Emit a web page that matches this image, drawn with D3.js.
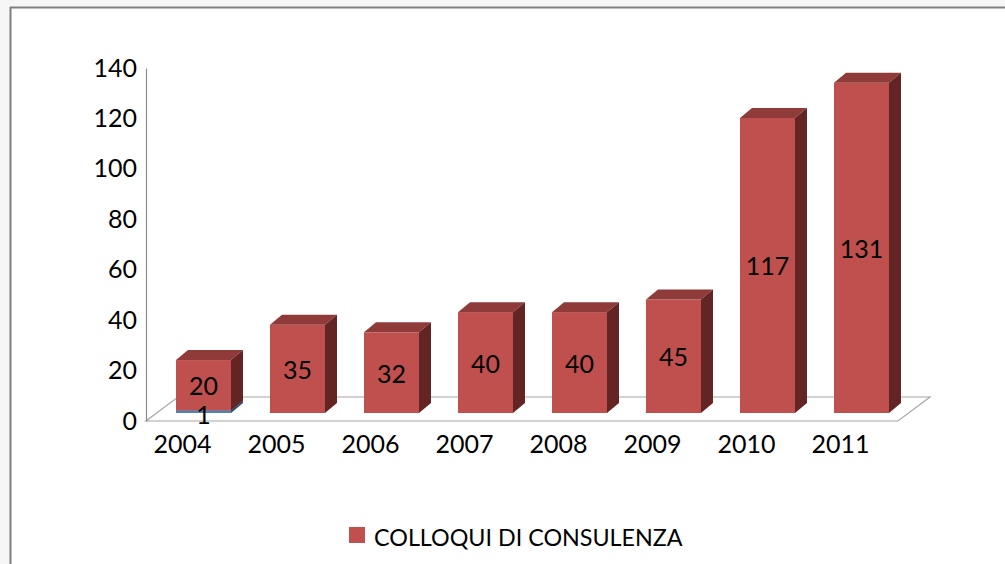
<!DOCTYPE html>
<html>
<head>
<meta charset="utf-8">
<script src="https://cdn.jsdelivr.net/npm/d3@7"></script>
<style>
  html, body { margin: 0; padding: 0; background: #f6f6f6; }
  svg { display: block; }
</style>
</head>
<body>
<div id="container"></div>
<script>
const width = 1005, height = 564;

// --- Data ---------------------------------------------------------------------
const years = ["2004", "2005", "2006", "2007", "2008", "2009", "2010", "2011"];
const blueValues = [1, 0, 0, 0, 0, 0, 0, 0];
const colloqui = [20, 35, 32, 40, 40, 45, 117, 131];
const yTicks = [0, 20, 40, 60, 80, 100, 120, 140];
const legendLabel = "COLLOQUI DI CONSULENZA";

const font = "Lato, 'Open Sans', sans-serif";

// 3D geometry (floor depth and bar depth offsets)
const floorDx = 32, floorDy = -24;
const barShiftX = 10.5, barShiftY = -8;
const barDx = 12, barDy = -10;

const x = d3.scaleBand().domain(years).range([146, 898]).paddingInner(0.415).paddingOuter(0.2075);
const y = d3.scaleLinear().domain([0, 140]).range([421, 68]);

const svg = d3.select("#container").append("svg").attr("width", width).attr("height", height);

// frame
svg.append("rect").attr("x", 11).attr("y", 8).attr("width", width - 11).attr("height", height - 8).attr("fill", "#fff");
svg.append("line").attr("x1", 10).attr("x2", width).attr("y1", 7.5).attr("y2", 7.5).attr("stroke", "#7f7f7f").attr("stroke-width", 2);
svg.append("line").attr("x1", 10.5).attr("x2", 10.5).attr("y1", 7).attr("y2", height).attr("stroke", "#7f7f7f").attr("stroke-width", 2);

// --- Floor --------------------------------------------------------------------
const x0 = 146, x1 = 898, y0 = y(0);
svg.append("path")
  .attr("d", `M${x0},${y0}L${x1},${y0}L${x1 + floorDx},${y0 + floorDy}L${x0 + floorDx},${y0 + floorDy}Z`)
  .attr("fill", "none")
  .attr("stroke", "#a6a6a6")
  .attr("stroke-width", 1.2);

// --- Y axis -------------------------------------------------------------------
const yAxis = svg.append("g").attr("transform", `translate(${x0},0)`)
  .call(d3.axisLeft(y).tickValues(yTicks).tickSize(0).tickPadding(9));
yAxis.select(".domain").attr("stroke", "#8c8c8c").attr("stroke-width", 1.2);
yAxis.selectAll("text").attr("fill", "#000").style("font-family", font).style("font-size", "25px");

// --- X labels -----------------------------------------------------------------
svg.selectAll("text.xlab")
  .data(years)
  .join("text")
  .attr("class", "xlab")
  .attr("x", (d) => x(d) + x.bandwidth() / 2 - barShiftX)
  .attr("y", 453)
  .attr("text-anchor", "middle")
  .attr("fill", "#000")
  .style("font-family", font)
  .style("font-size", "25px")
  .text((d) => d);

// --- Bars ---------------------------------------------------------------------
function drawBox(g, bx, yTop, yBot, w, colors) {
  g.append("rect").attr("x", bx).attr("y", yTop).attr("width", w).attr("height", yBot - yTop).attr("fill", colors[0]);
  g.append("path")
    .attr("d", `M${bx},${yTop}L${bx + w},${yTop}L${bx + w + barDx},${yTop + barDy}L${bx + barDx},${yTop + barDy}Z`)
    .attr("fill", colors[1]);
  g.append("path")
    .attr("d", `M${bx + w},${yTop}L${bx + w + barDx},${yTop + barDy}L${bx + w + barDx},${yBot + barDy}L${bx + w},${yBot}Z`)
    .attr("fill", colors[2]);
}

const redCols = ["#c0504d", "#8e3b39", "#632523"];
const blueCols = ["#4f81bd", "#3a5f8c", "#2c4a6e"];

const series = years.map((yr, i) => ({ yr, blue: blueValues[i], red: colloqui[i] }));
const bars = svg.append("g").attr("transform", `translate(${barShiftX},${barShiftY})`);
series.forEach((d) => {
  const g = bars.append("g");
  const bx = x(d.yr), w = x.bandwidth();
  const base = y(0);
  const blueTop = y(d.blue);
  const redTop = y(d.blue + d.red);
  // lower segment first so the upper one covers its top face
  if (d.blue > 0) drawBox(g, bx, blueTop, base, w, blueCols);
  drawBox(g, bx, redTop, blueTop, w, redCols);
});

// value labels
series.forEach((d) => {
  const cx = x(d.yr) + x.bandwidth() / 2 + barShiftX;
  const redMid = (y(d.blue) + y(d.blue + d.red)) / 2 + barShiftY;
  svg.append("text")
    .attr("x", cx).attr("y", redMid)
    .attr("text-anchor", "middle").attr("dominant-baseline", "central")
    .attr("fill", "#000").style("font-family", font).style("font-size", "25px")
    .text(d.red);
  if (d.blue > 0) {
    svg.append("text")
      .attr("x", cx).attr("y", (y(0) + y(d.blue)) / 2 + barShiftY + 2)
      .attr("text-anchor", "middle").attr("dominant-baseline", "central")
      .attr("fill", "#000").style("font-family", font).style("font-size", "25px")
      .text(d.blue);
  }
});

// --- Legend -------------------------------------------------------------------
svg.append("rect").attr("x", 349).attr("y", 527).attr("width", 16).attr("height", 16).attr("fill", redCols[0]);
svg.append("text")
  .attr("x", 374).attr("y", 546)
  .attr("fill", "#000").style("font-family", font).style("font-size", "23.3px")
  .text(legendLabel);
</script>
</body>
</html>
